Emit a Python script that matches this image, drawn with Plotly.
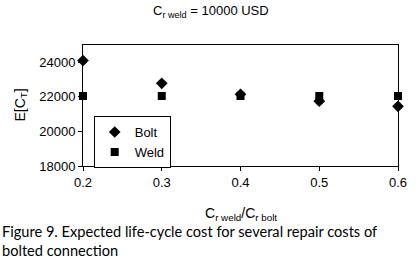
import plotly.graph_objects as go

ratio = [0.2, 0.3, 0.4, 0.5, 0.6]
bolt = [24100, 22780, 22150, 21750, 21450]
weld = [22050, 22050, 22050, 22050, 22050]
y_ticks = [18000, 20000, 22000, 24000]
y_labels = ["18000", "20000", "22000", "24000"]
x_ticks = [0.2, 0.3, 0.4, 0.5, 0.6]
x_labels = ["0.2", "0.3", "0.4", "0.5", "0.6"]

font = "Liberation Sans, Arial, sans-serif"

fig = go.Figure()
fig.add_trace(go.Scatter(x=ratio, y=bolt, mode="markers", name="Bolt",
                         marker=dict(symbol="diamond", size=9, color="black"), cliponaxis=False))
fig.add_trace(go.Scatter(x=ratio, y=weld, mode="markers", name="Weld",
                         marker=dict(symbol="square", size=8, color="black"), cliponaxis=False))

fig.update_layout(
    width=419, height=267,
    margin=dict(l=83, r=13, t=45, b=101),
    plot_bgcolor="white", paper_bgcolor="white",
    font=dict(family=font, size=13, color="black"),
    showlegend=True,
    legend=dict(x=0.034, y=0.413, xanchor="left", yanchor="top",
                bordercolor="black", borderwidth=1, bgcolor="white",
                font=dict(size=13), itemwidth=30, tracegroupgap=0),
    xaxis=dict(range=[0.2, 0.6], tickvals=x_ticks, ticktext=x_labels,
               showline=True, linecolor="black", linewidth=1, mirror=True,
               ticks="outside", ticklen=4, tickcolor="black", showgrid=False, zeroline=False,
               tickfont=dict(size=13)),
    yaxis=dict(range=[18000, 25000], tickvals=y_ticks, ticktext=y_labels,
               showline=True, linecolor="black", linewidth=1, mirror=True,
               ticks="outside", ticklen=4, tickcolor="black", showgrid=False, zeroline=False,
               tickfont=dict(size=13)),
    annotations=[
        dict(text="C<sub>r weld</sub> = 10000 USD", x=0.406, y=1.0, xref="paper", yref="paper",
             xanchor="center", yanchor="middle", yshift=34, showarrow=False,
             font=dict(size=13)),
        dict(text="C<sub>r weld</sub>/C<sub>r bolt</sub>", x=0.5, y=0, xref="paper", yref="paper",
             xanchor="center", yanchor="middle", yshift=-48, showarrow=False,
             font=dict(size=14)),
        dict(text="E[C<sub>T</sub>]", x=0, y=0.5, xref="paper", yref="paper",
             xanchor="center", yanchor="middle", xshift=-63, textangle=-90, showarrow=False,
             font=dict(size=14)),
        dict(text="Figure 9. Expected life-cycle cost for several repair costs of<br>bolted connection",
             x=0, y=0, xref="paper", yref="paper", xanchor="left", yanchor="top",
             xshift=-83, yshift=-55, showarrow=False, align="left",
             font=dict(size=14.6, family="Lato, Noto Sans, sans-serif")),
    ],
)

fig.write_html("out.html", config={"displayModeBar": False},
               post_script="document.body.style.margin='0';document.body.style.overflow='hidden';")
